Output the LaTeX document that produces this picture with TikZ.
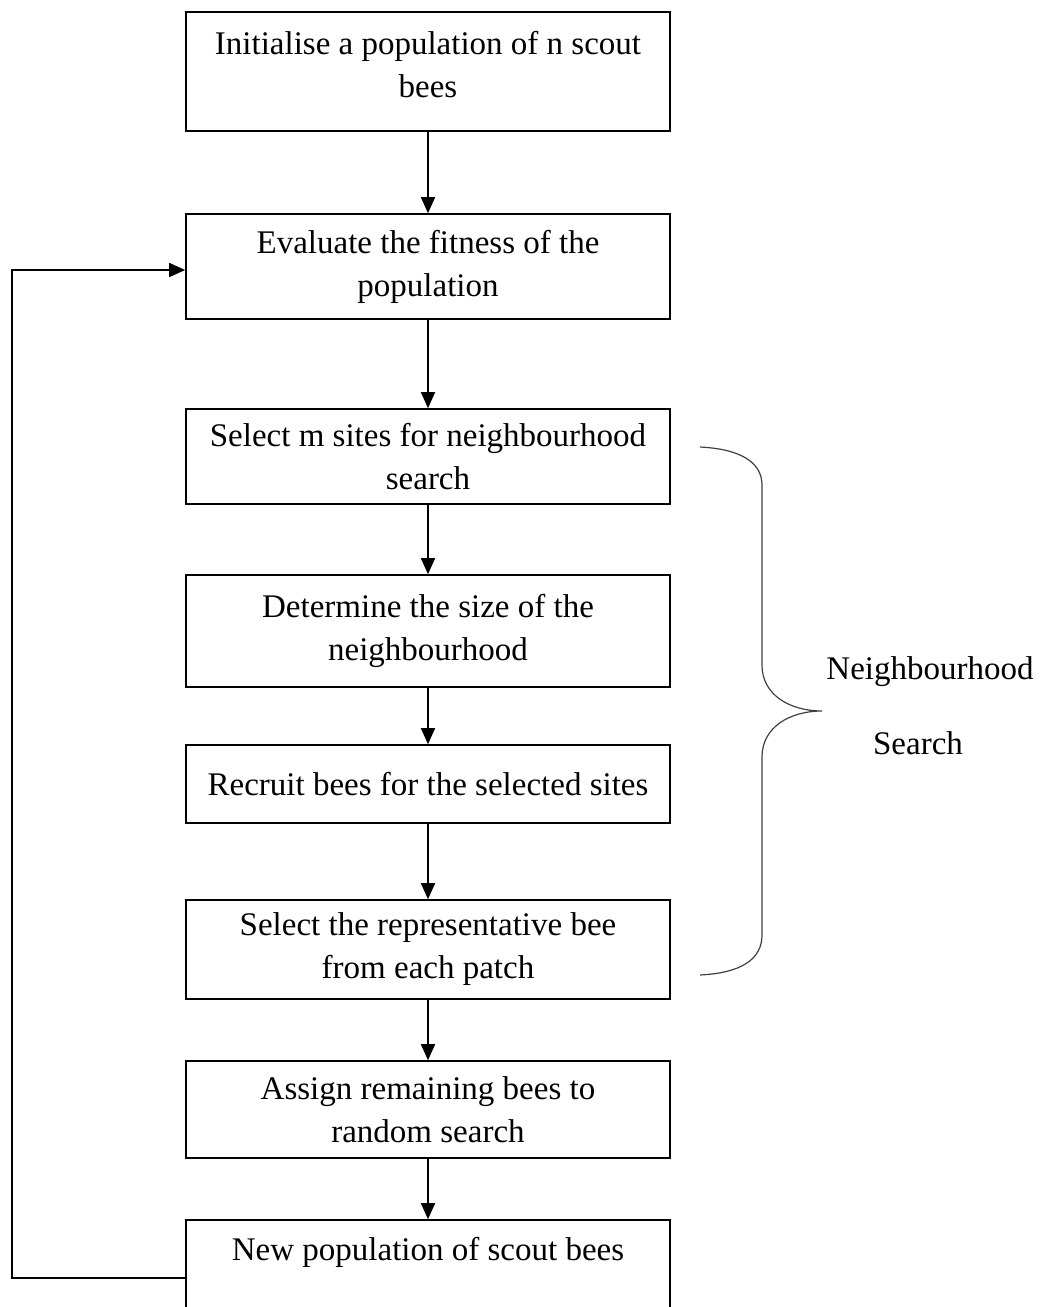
\documentclass[tikz,border=0pt]{standalone}
\usepackage{fontspec}
\setmainfont{Liberation Serif}
\usetikzlibrary{arrows.meta,calc}
\begin{document}
\begin{tikzpicture}[x=1pt,y=-1pt,
  box/.style={draw=black,line width=1.6pt,minimum width=484pt,inner sep=0pt,align=center,font=\fontsize{33}{43}\selectfont},
  arr/.style={line width=1.6pt,-{Triangle[length=16pt,width=14pt]}},
  plain/.style={align=center,font=\fontsize{33}{43}\selectfont,inner sep=0pt}]
\useasboundingbox (0,0) rectangle (1044,1307);
\clip (0,0) rectangle (1044,1307);
\node[box,minimum height=119pt] (b1) at (428,71.5) {};
\node[plain] (t1) at (428,65) {Initialise a population of n scout\\bees};
\node[box,minimum height=105pt] (b2) at (428,266.5) {Evaluate the fitness of the\\population};
\node[box,minimum height=95pt] (b3) at (428,456.5) {Select m sites for neighbourhood\\search};
\node[box,minimum height=112pt] (b4) at (428,631) {Determine the size of the\\neighbourhood};
\node[box,minimum height=78pt] (b5) at (428,784) {Recruit bees for the selected sites};
\node[box,minimum height=99pt] (b6) at (428,949.5) {Select the representative bee\\from each patch};
\node[box,minimum height=97pt] (b7) at (428,1109.5) {Assign remaining bees to\\random search};
\node[box,minimum height=120pt] (b8) at (428,1280) {};
\node[plain] (t8) at (428,1252) {New population of scout bees};
\draw[arr] (b1) -- (b2);
\draw[arr] (b2) -- (b3);
\draw[arr] (b3) -- (b4);
\draw[arr] (b4) -- (b5);
\draw[arr] (b5) -- (b6);
\draw[arr] (b6) -- (b7);
\draw[arr] (b7) -- (b8);
\coordinate (lb) at (12,1278);
\coordinate (lt) at (12,270);
\draw[arr] (b8.west |- lb) -- (lb) -- (lt) -- (b2.west |- lt);
\coordinate (bt) at (700,447);
\coordinate (bb) at (700,975);
\coordinate (tip) at (822,711);
\draw[line width=1.2pt,draw=black!75]
  (bt) .. controls (740,449) and (762,462) .. (762,485)
  -- (762,665)
  .. controls (762,695) and (790,711) .. (tip)
  .. controls (790,711) and (762,727) .. (762,757)
  -- (762,935)
  .. controls (762,960) and (740,973) .. (bb);
\node[plain] (n1) at (930,672) {Neighbourhood};
\node[plain] (n2) at (918,743) {Search};
\end{tikzpicture}
\end{document}
